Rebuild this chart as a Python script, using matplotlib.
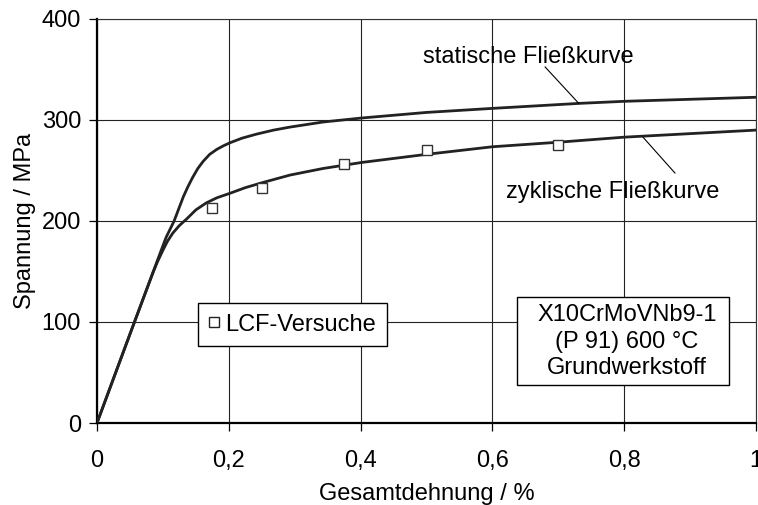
import matplotlib
matplotlib.use("Agg")
import matplotlib.pyplot as plt
from matplotlib.lines import Line2D
from matplotlib.patches import Rectangle

plt.rcParams["font.family"] = ["Liberation Sans", "DejaVu Sans"]
plt.rcParams["font.size"] = 17

# Static flow curve (total strain in %, stress in MPa)
static_strain = [0, 0.05, 0.09, 0.098, 0.105, 0.111, 0.117, 0.124, 0.131, 0.138,
                 0.145, 0.153, 0.161, 0.171, 0.182, 0.192, 0.202, 0.22, 0.242,
                 0.268, 0.293, 0.343, 0.402, 0.5, 0.6, 0.733, 0.8, 0.9, 1.0]
static_stress = [0, 88, 158, 172, 184, 192, 200, 212, 224, 234,
                 243, 252, 259, 266, 271, 274.5, 277.5, 282, 286,
                 290, 293, 298, 302, 307.5, 311.5, 316.5, 318.5, 320.5, 322.5]

# Cyclic flow curve
cyclic_strain = [0, 0.05, 0.085, 0.092, 0.1, 0.107, 0.115, 0.125, 0.136, 0.15,
                 0.166, 0.182, 0.202, 0.225, 0.251, 0.293, 0.343, 0.402, 0.5,
                 0.6, 0.7, 0.8, 0.9, 1.0]
cyclic_stress = [0, 88, 149, 160, 171, 180, 188, 195.5, 202, 211,
                 218, 223, 227.5, 233, 238, 245.5, 252, 258, 266,
                 273.5, 278, 283, 286.5, 290]

# LCF test results
lcf_strain = [0.175, 0.25, 0.375, 0.5, 0.7]
lcf_stress = [213, 233, 256, 270, 275]

x_ticks = [0, 0.2, 0.4, 0.6, 0.8, 1.0]
x_tick_labels = ["0", "0,2", "0,4", "0,6", "0,8", "1"]
y_ticks = [0, 100, 200, 300, 400]
y_tick_labels = ["0", "100", "200", "300", "400"]

fig = plt.figure(figsize=(7.58, 5.05), dpi=100)
ax = fig.add_axes([97 / 758, 82 / 505, (756 - 97) / 758, (423 - 19) / 505])

ax.set_xlim(0, 1)
ax.set_ylim(0, 400)
ax.set_xticks(x_ticks)
ax.set_xticklabels(x_tick_labels)
ax.set_yticks(y_ticks)
ax.set_yticklabels(y_tick_labels)

ax.grid(True, color="#222222", linewidth=0.8, zorder=0)
ax.set_axisbelow(True)

for side in ("left", "bottom"):
    ax.spines[side].set_linewidth(1.6)
    ax.spines[side].set_color("black")
for side in ("top", "right"):
    ax.spines[side].set_linewidth(0.8)
    ax.spines[side].set_color("#333333")

ax.tick_params(axis="both", direction="out", length=5.5, width=0.9, color="black",
               labelsize=17)
ax.tick_params(axis="y", pad=6)
ax.tick_params(axis="x", pad=14)

ax.plot(static_strain, static_stress, color="#222222", linewidth=2.0, zorder=3,
        solid_capstyle="round", solid_joinstyle="round")
ax.plot(cyclic_strain, cyclic_stress, color="#222222", linewidth=2.0, zorder=3,
        solid_capstyle="round", solid_joinstyle="round")
ax.plot(lcf_strain, lcf_stress, linestyle="none", marker="s", markersize=7.5,
        markerfacecolor="white", markeredgecolor="#333333", markeredgewidth=1.0,
        zorder=4)

# Curve labels with leader lines
ax.text(0.654, 362, "statische Fließkurve", ha="center", va="center")
ax.plot([0.680, 0.731], [352.5, 316.5], color="black", linewidth=0.8, zorder=3)
ax.text(0.783, 228.7, "zyklische Fließkurve", ha="center", va="center")
ax.plot([0.8285, 0.877], [283, 247.5], color="black", linewidth=0.8, zorder=3)

# Legend box
handle = Line2D([], [], linestyle="none", marker="s", markersize=7,
                markerfacecolor="white", markeredgecolor="#222222", markeredgewidth=1.0)
leg = ax.legend([handle], ["LCF-Versuche"], loc="center",
                bbox_to_anchor=(0.2967, 97.5), bbox_transform=ax.transData,
                frameon=True, fancybox=False, framealpha=1, edgecolor="black",
                borderpad=0.45, handlelength=0.45, handletextpad=0.25,
                borderaxespad=0, fontsize=17)
leg.get_frame().set_linewidth(1.0)
leg.set_zorder(5)

# Material info box
ax.add_patch(Rectangle((0.637, 37.6), 0.959 - 0.637, 124.8 - 37.6,
                       facecolor="white", edgecolor="black", linewidth=1.0, zorder=5))
ax.text(0.804, 80.5, "X10CrMoVNb9-1\n(P 91) 600 °C\nGrundwerkstoff",
        ha="center", va="center", multialignment="center", linespacing=1.27,
        zorder=6)

ax.set_xlabel("Gesamtdehnung / %", labelpad=8)
ax.set_ylabel("Spannung / MPa", labelpad=4)

fig.savefig("out.png", dpi=100)
